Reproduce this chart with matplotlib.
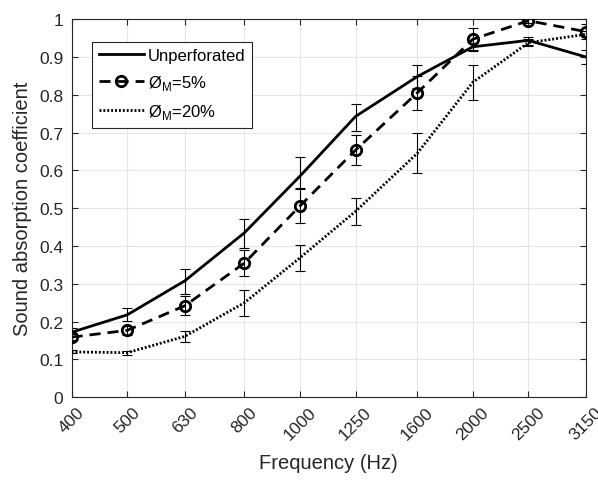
import matplotlib
matplotlib.use("Agg")
import matplotlib.pyplot as plt

plt.rcParams['font.family'] = ['Liberation Sans', 'DejaVu Sans']
plt.rcParams['mathtext.fontset'] = 'custom'
plt.rcParams['mathtext.rm'] = 'Liberation Sans'

# Frequencies (Hz) and absorption coefficients
freqs = [400, 500, 630, 800, 1000, 1250, 1600, 2000, 2500, 3150]

unperf = [0.172, 0.218, 0.308, 0.435, 0.585, 0.743, 0.848, 0.927, 0.944, 0.900]
unperf_err_lo = [0.010, 0.017, 0.035, 0.040, 0.032, 0.038, 0.030, 0.010, 0.012, 0.019]
unperf_err_hi = [0.010, 0.017, 0.031, 0.036, 0.050, 0.034, 0.030, 0.010, 0.010, 0.019]

perf5 = [0.159, 0.177, 0.242, 0.355, 0.506, 0.654, 0.805, 0.947, 0.996, 0.967]
perf5_err = [0.008, 0.012, 0.025, 0.035, 0.045, 0.040, 0.045, 0.029, 0.005, 0.020]

perf20 = [0.120, 0.118, 0.161, 0.250, 0.369, 0.492, 0.645, 0.833, 0.938, 0.960]
perf20_err = [0.004, 0.005, 0.015, 0.034, 0.035, 0.036, 0.053, 0.047, 0.010, 0.008]

labels = ['Unperforated', 'Ø$_\\mathregular{M}$=5%', 'Ø$_\\mathregular{M}$=20%']

fig = plt.figure(figsize=(5.98, 4.81), dpi=100)
ax = fig.add_axes([0.1197, 0.172, 0.8603, 0.786])

# error bars first, then the lines on top
eb = dict(fmt='none', ecolor='black', elinewidth=0.8, capsize=3.5, capthick=0.8, zorder=2)
ax.errorbar(freqs, unperf, yerr=[unperf_err_lo, unperf_err_hi], **eb)
ax.errorbar(freqs, perf5, yerr=perf5_err, **eb)
ax.errorbar(freqs, perf20, yerr=perf20_err, **eb)

ax.plot(freqs, unperf, color='black', lw=2.0, ls='-', label=labels[0], zorder=3)
ax.plot(freqs, perf5, color='black', lw=2.0, ls=(0, (4, 2.5)), marker='o',
        markersize=7.5, markerfacecolor='none', markeredgewidth=2.0, label=labels[1], zorder=3)
ax.plot(freqs, perf20, color='black', lw=2.0, ls=(0, (0.7, 0.7)), label=labels[2], zorder=3)

ax.set_xscale('log')
ax.set_xlim(400, 3150)
ax.set_ylim(0, 1)
ax.set_xticks(freqs)
ax.set_xticklabels([str(f) for f in freqs], rotation=45, ha='center', va='top')
ax.xaxis.set_minor_locator(matplotlib.ticker.NullLocator())
yt = [i / 10 for i in range(11)]
ax.set_yticks(yt)
ax.set_yticklabels(['0', '0.1', '0.2', '0.3', '0.4', '0.5', '0.6', '0.7', '0.8', '0.9', '1'])

ax.tick_params(direction='in', length=4, width=0.8, top=True, right=True,
               labelsize=12.5, colors='#262626', labelcolor='#262626')
ax.tick_params(axis='x', pad=5)
ax.tick_params(axis='y', pad=6)
ax.grid(True, color='#e6e6e6', lw=0.8)
ax.set_axisbelow(True)
for s in ax.spines.values():
    s.set_color('#262626')
    s.set_linewidth(0.8)

ax.set_xlabel('Frequency (Hz)', fontsize=14.5, color='#262626', labelpad=8)
ax.set_ylabel('Sound absorption coefficient', fontsize=14.5, color='#262626', labelpad=5)

leg = ax.legend(loc='upper left', bbox_to_anchor=(0.04, 0.941), fontsize=12,
                frameon=True, fancybox=False, edgecolor='#262626', framealpha=1,
                handlelength=2.7, handletextpad=0.25, borderpad=0.4, labelspacing=0.6,
                borderaxespad=0)
leg.get_frame().set_linewidth(0.8)

fig.savefig('out.png', dpi=100)
